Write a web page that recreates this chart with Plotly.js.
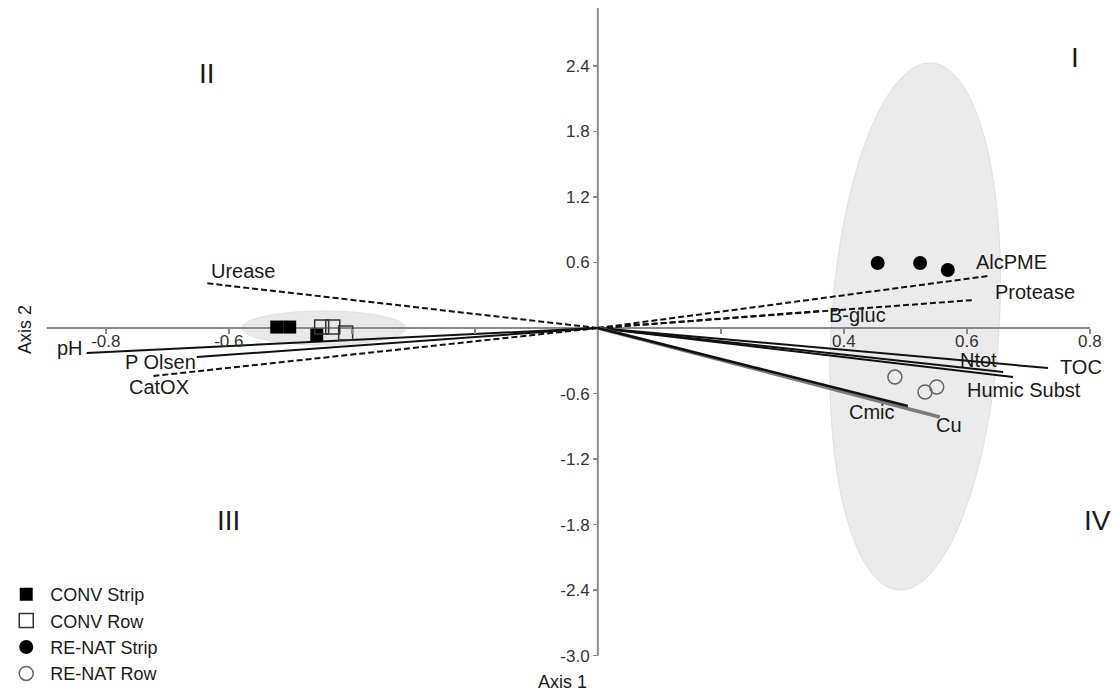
<!DOCTYPE html>
<html>
<head>
<meta charset="utf-8">
<script src="https://cdn.plot.ly/plotly-3.0.1.min.js"></script>
<style>
  html, body { margin: 0; padding: 0; background: #fff; }
  #chart { width: 1112px; height: 692px; }
</style>
</head>
<body>
<div id="chart"></div>
<script>
// ---- Variable loadings (biplot vectors) ----
const varNames = ['Urease', 'pH', 'P Olsen', 'CatOX', 'AlcPME', 'Protease', 'B-gluc',
                  'Ntot', 'TOC', 'Humic Subst', 'Cu', 'Cmic'];
const loadX = [-0.639, -0.831, -0.652, -0.724, 0.634, 0.610, 0.361,
               0.659, 0.732, 0.675, 0.556, 0.504];
const loadY = [0.412, -0.229, -0.266, -0.440, 0.476, 0.256, 0.156,
               -0.403, -0.366, -0.449, -0.815, -0.714];

// ---- Sample scores ----
const convStripX = [-0.522, -0.501, -0.457];
const convStripY = [0.009, 0.009, -0.064];
const convRowX = [-0.449, -0.431, -0.410];
const convRowY = [0.009, 0.009, -0.046];
const renatStripX = [0.455, 0.524, 0.569];
const renatStripY = [0.595, 0.595, 0.531];
const renatRowX = [0.483, 0.532, 0.551];
const renatRowY = [-0.449, -0.586, -0.540];

// ---- Axis ticks ----
const xTickVals = [-0.8, -0.6, -0.4, -0.2, 0.2, 0.4, 0.6, 0.8];
const xTickText = ['-0.8', '-0.6', '', '', '', '0.4', '0.6', '0.8'];
const yTickVals = [2.4, 1.8, 1.2, 0.6, -0.6, -1.2, -1.8, -2.4, -3.0];
const yTickText = ['2.4', '1.8', '1.2', '0.6', '-0.6', '-1.2', '-1.8', '-2.4', '-3.0'];

// ---- Group ellipses: centre, half-axis vectors (data units) ----
const ellipseConv = { c: [-0.4455, 0.0], u: [0.133, 0.0], v: [0.0, 0.156] };
const ellipseRenat = { c: [0.516, 0.014], u: [0.0268, 2.413], v: [0.136, -0.0486] };

// ---- Styling (kept apart from the values) ----
const FONT = 'Liberation Sans, Arial, Helvetica, sans-serif';
const dashedVars = ['Urease', 'CatOX', 'AlcPME', 'Protease', 'B-gluc'];
const lineColour = { 'Cu': '#7a7a7a' };
const lineWidth = { 'Cu': 3.5, 'Cmic': 2.5 };
// label offsets from each vector tip, in pixels (x right, y up)
const labelShift = {
  'Urease': [38, 12], 'pH': [-17, 5], 'P Olsen': [-36, -5], 'CatOX': [6, -11],
  'AlcPME': [24, 14], 'Protease': [62, 8], 'B-gluc': [38, -4], 'Ntot': [-25, 12],
  'TOC': [33, 1], 'Humic Subst': [11, -13], 'Cmic': [-36, -6], 'Cu': [9, -8]
};

// ---- Traces ----
const traces = [];
varNames.forEach((name, i) => {
  traces.push({
    type: 'scatter', mode: 'lines',
    x: [0, loadX[i]], y: [0, loadY[i]],
    line: {
      color: lineColour[name] || '#111',
      width: lineWidth[name] || 2,
      dash: dashedVars.includes(name) ? '6px,3px' : 'solid'
    },
    showlegend: false, hoverinfo: 'skip'
  });
});

traces.push({
  type: 'scatter', mode: 'markers', name: 'CONV Strip',
  x: convStripX, y: convStripY,
  marker: { symbol: 'square', size: 13, color: '#000' }
});
traces.push({
  type: 'scatter', mode: 'markers', name: 'CONV Row',
  x: convRowX, y: convRowY,
  marker: { symbol: 'square-open', size: 14, color: '#333', line: { width: 1.5 } }
});
traces.push({
  type: 'scatter', mode: 'markers', name: 'RE-NAT Strip',
  x: renatStripX, y: renatStripY,
  marker: { symbol: 'circle', size: 14, color: '#000' }
});
traces.push({
  type: 'scatter', mode: 'markers', name: 'RE-NAT Row',
  x: renatRowX, y: renatRowY,
  marker: { symbol: 'circle-open', size: 14, color: '#666', line: { width: 1.5 } }
});

// ---- Shapes: ellipses and the crossing axes ----
function ellipsePath(e, n) {
  let d = '';
  for (let k = 0; k <= n; k++) {
    const t = 2 * Math.PI * k / n;
    const px = e.c[0] + Math.cos(t) * e.u[0] + Math.sin(t) * e.v[0];
    const py = e.c[1] + Math.cos(t) * e.u[1] + Math.sin(t) * e.v[1];
    d += (k === 0 ? 'M' : 'L') + px.toFixed(5) + ',' + py.toFixed(5);
  }
  return d + 'Z';
}

const xMin = -0.972, xMax = 0.836;   // plot window
const yMin = -3.333, yMax = 3.004;

const shapes = [
  { type: 'path', path: ellipsePath(ellipseRenat, 120), xref: 'x', yref: 'y', layer: 'below',
    fillcolor: '#ebebeb', line: { color: '#dedede', width: 1 } },
  { type: 'path', path: ellipsePath(ellipseConv, 120), xref: 'x', yref: 'y', layer: 'below',
    fillcolor: '#e8e8e8', line: { color: '#e0e0e0', width: 1 } },
  { type: 'line', xref: 'x', yref: 'y', x0: -0.896, x1: 0.80, y0: 0, y1: 0, layer: 'below',
    line: { color: '#8a8a8a', width: 2 } },
  { type: 'line', xref: 'x', yref: 'y', x0: 0, x1: 0, y0: -3.0, y1: 2.93, layer: 'below',
    line: { color: '#8a8a8a', width: 2 } }
];

// ---- Annotations ----
const annotations = [];
varNames.forEach((name, i) => {
  const s = labelShift[name];
  annotations.push({
    x: loadX[i], y: loadY[i], xref: 'x', yref: 'y',
    text: name, showarrow: false, xshift: s[0], yshift: s[1],
    font: { family: FONT, size: 20, color: '#1a1a1a' }
  });
});

function paperText(text, px, py, size, extra) {
  return Object.assign({
    x: px / 1112, y: 1 - py / 692, xref: 'paper', yref: 'paper',
    text: text, showarrow: false, xanchor: 'center', yanchor: 'middle',
    font: { family: FONT, size: size, color: '#1a1a1a' }
  }, extra || {});
}
annotations.push(paperText('I', 1075, 57, 28));
annotations.push(paperText('II', 207, 74, 28));
annotations.push(paperText('III', 228, 520, 28));
annotations.push(paperText('IV', 1097, 520, 28));
annotations.push(paperText('Axis 1', 562, 682, 18));
annotations.push(paperText('Axis 2', 25, 330, 18, { textangle: -90 }));

const layout = {
  width: 1112, height: 692,
  margin: { l: 0, r: 0, t: 0, b: 0 },
  paper_bgcolor: '#fff', plot_bgcolor: '#fff',
  showlegend: true,
  legend: {
    x: 0.002, y: 1 - 576 / 692, xanchor: 'left', yanchor: 'top',
    bgcolor: 'rgba(0,0,0,0)', borderwidth: 0, itemwidth: 38,
    font: { family: FONT, size: 18, color: '#1a1a1a' }
  },
  xaxis: {
    range: [xMin, xMax], autorange: false, anchor: 'free', position: 1 - 328 / 692,
    showgrid: false, zeroline: false, showline: false,
    ticks: 'outside', ticklen: 5, tickwidth: 1.5, tickcolor: '#8a8a8a',
    ticklabelstandoff: -7,
    tickvals: xTickVals, ticktext: xTickText,
    tickfont: { family: FONT, size: 17, color: '#333' }
  },
  yaxis: {
    range: [yMin, yMax], autorange: false, anchor: 'free', position: 598 / 1112,
    showgrid: false, zeroline: false, showline: false,
    ticks: 'outside', ticklen: 5, tickwidth: 1.5, tickcolor: '#8a8a8a',
    tickvals: yTickVals, ticktext: yTickText,
    tickfont: { family: FONT, size: 17, color: '#333' }
  },
  shapes: shapes,
  annotations: annotations,
  hovermode: false
};

Plotly.newPlot('chart', traces, layout, { displayModeBar: false, staticPlot: true });
</script>
</body>
</html>
